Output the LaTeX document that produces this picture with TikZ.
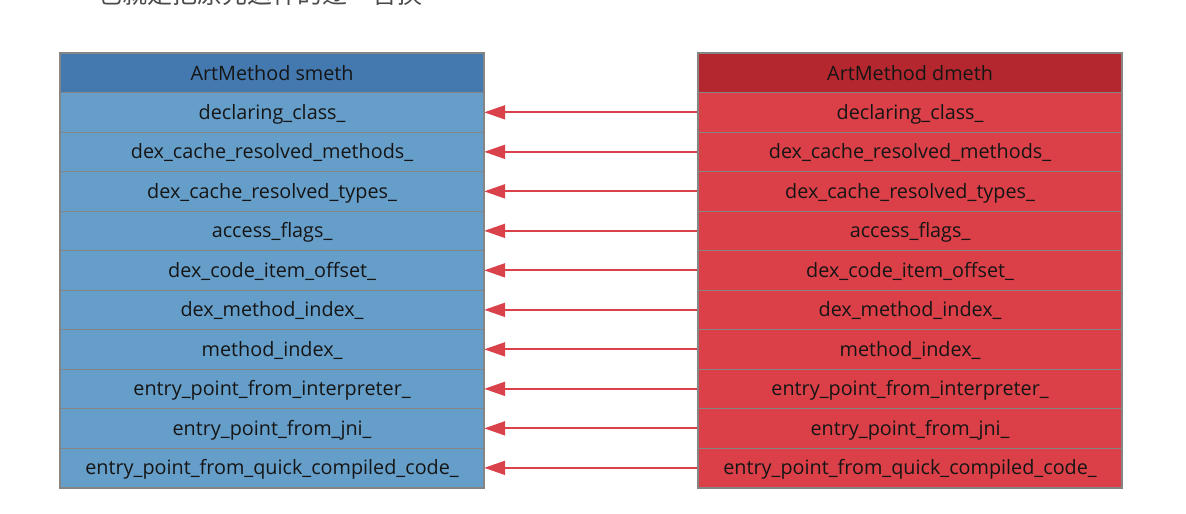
\documentclass[tikz,border=0pt]{standalone}
\usepackage{fontspec}
\setmainfont{Open Sans}
\newfontfamily\cjk{Noto Sans CJK SC}
\usetikzlibrary{arrows.meta}
\definecolor{smethhead}{HTML}{4479B0}
\definecolor{smethrow}{HTML}{669ECA}
\definecolor{dmethhead}{HTML}{B4272F}
\definecolor{dmethrow}{HTML}{DB4048}
\definecolor{cellline}{HTML}{858585}
\definecolor{celltext}{HTML}{151515}
\definecolor{linkred}{HTML}{D9424B}
\definecolor{captiongray}{HTML}{4A4A4A}
\begin{document}
\begin{tikzpicture}[x=1pt,y=-1pt,
  cell/.style={draw=cellline, line width=1.2pt, minimum width=423pt,
    minimum height=39.5pt, inner sep=0pt, anchor=north west,
    text height=14pt, text depth=0pt,
    font=\fontsize{19.8}{19.8}\selectfont, text=celltext},
  frame/.style={draw=cellline, line width=2.4pt},
  link/.style={draw=linkred, line width=2pt, -{Triangle[length=21pt,width=14pt]}}]
\clip (0,0) rectangle (1186,514);
\fill[white] (0,0) rectangle (1186,514);

% caption line, cut off by the page top
\node[anchor=base west, inner sep=0pt, text=captiongray,
  font=\cjk\fontsize{25}{25}\selectfont] (caption) at (97,3) {也就是把原先这样的逐一替换};

% headers
\node[cell, fill=smethhead] (sh) at (60,53) {ArtMethod smeth};
\node[cell, fill=dmethhead] (dh) at (698,53) {ArtMethod dmeth};

% field rows and the links between them
\foreach \f [count=\i] in {declaring\_class\_, dex\_cache\_resolved\_methods\_,
  dex\_cache\_resolved\_types\_, access\_flags\_, dex\_code\_item\_offset\_,
  dex\_method\_index\_, method\_index\_, entry\_point\_from\_interpreter\_,
  entry\_point\_from\_jni\_, entry\_point\_from\_quick\_compiled\_code\_} {
  \node[cell, fill=smethrow] (s\i) at (60,{92+(\i-1)*39.5}) {\f};
  \node[cell, fill=dmethrow] (d\i) at (698,{92+(\i-1)*39.5}) {\f};
  \draw[link] (d\i.west) -- (s\i.east);
}

% outer frames
\draw[frame] (sh.north west) rectangle (s10.south east);
\draw[frame] (dh.north west) rectangle (d10.south east);
\end{tikzpicture}
\end{document}
